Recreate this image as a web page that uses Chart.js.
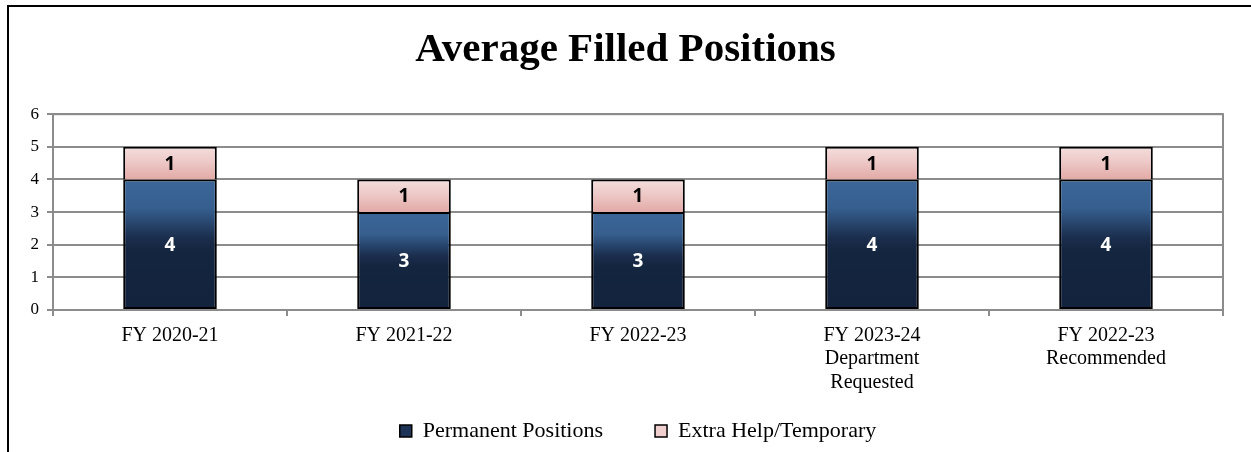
<!DOCTYPE html>
<html>
<head>
<meta charset="utf-8">
<script src="https://cdn.jsdelivr.net/npm/chart.js@4/dist/chart.umd.min.js"></script>
<style>
  html, body { margin: 0; padding: 0; background: #ffffff; }
  #wrap { position: relative; width: 1251px; height: 452px; overflow: hidden; background: #fff; }
  #frame { position: absolute; left: 7px; top: 5px; width: 1400px; height: 600px;
           border-left: 2px solid #000; border-top: 2px solid #000; }
  canvas { position: absolute; left: 0; top: 0; }
</style>
</head>
<body>
<div id="wrap">
  <div id="frame"></div>
  <canvas id="c" width="1251" height="452"></canvas>
</div>
<script>
const chartTitle = 'Average Filled Positions';
const categories = [
  ['FY 2020-21'],
  ['FY 2021-22'],
  ['FY 2022-23'],
  ['FY 2023-24', 'Department', 'Requested'],
  ['FY 2022-23', 'Recommended']
];
const seriesNames = ['Permanent Positions', 'Extra Help/Temporary'];
const permanentPositions = [4, 3, 3, 4, 4];
const extraHelpTemporary = [1, 1, 1, 1, 1];
const yTicks = [0, 1, 2, 3, 4, 5, 6];

const SERIF = '"Liberation Serif", "Times New Roman", serif';
const SANS = '"Open Sans", "Liberation Sans", sans-serif';

function barGradient(context, stops) {
  const chart = context.chart;
  const area = chart.chartArea;
  const fallback = stops[stops.length - 1][1];
  if (!area) return fallback;
  const y = chart.scales.y;
  const raw = context.raw;
  if (raw === undefined || raw === null) return fallback;
  let start = 0;
  for (let d = 0; d < context.datasetIndex; d++) start += chart.data.datasets[d].data[context.dataIndex];
  const top = y.getPixelForValue(start + raw);
  const bottom = y.getPixelForValue(start);
  if (!isFinite(top) || !isFinite(bottom) || top === bottom) return fallback;
  const g = chart.ctx.createLinearGradient(0, top, 0, bottom);
  stops.forEach(s => g.addColorStop(s[0], s[1]));
  return g;
}

const blueStops = [[0, '#3b6698'], [0.22, '#365f8f'], [0.45, '#1a2d4c'], [0.55, '#14253f'], [1, '#13233d']];
const pinkStops = [[0, '#f3dedd'], [0.4, '#eeccca'], [1, '#e2a9a6']];

const valueLabels = {
  id: 'valueLabels',
  afterDatasetsDraw(chart) {
    const ctx = chart.ctx;
    ctx.save();
    ctx.font = 'bold 19px ' + SANS;
    ctx.textAlign = 'center';
    ctx.textBaseline = 'middle';
    chart.data.datasets.forEach((ds, di) => {
      const meta = chart.getDatasetMeta(di);
      meta.data.forEach((bar, i) => {
        const p = bar.getProps(['x', 'y', 'base'], true);
        ctx.fillStyle = di === 0 ? '#ffffff' : '#000000';
        ctx.fillText(String(ds.data[i]), p.x, (p.y + p.base) / 2 + 1);
      });
    });
    ctx.restore();
  }
};

const plotBorder = {
  id: 'plotBorder',
  beforeDatasetsDraw(chart) {
    const a = chart.chartArea;
    const ctx = chart.ctx;
    ctx.save();
    ctx.strokeStyle = '#8c8c8c';
    ctx.lineWidth = 2;
    ctx.strokeRect(a.left, a.top, a.right - a.left, a.bottom - a.top);
    ctx.restore();
  }
};

// let the multi-line category labels run down past the axis box (they are clipped to it otherwise)
const labelRoom = {
  id: 'labelRoom',
  afterLayout(chart) {
    chart.scales.x.bottom = chart.height;
  }
};

new Chart(document.getElementById('c'), {
  type: 'bar',
  data: {
    labels: categories,
    datasets: [
      {
        label: seriesNames[0],
        data: permanentPositions,
        backgroundColor: (ctx) => barGradient(ctx, blueStops),
        borderColor: '#000000',
        borderWidth: 2,
        borderSkipped: false,
        barPercentage: 0.8,
        categoryPercentage: 0.5
      },
      {
        label: seriesNames[1],
        data: extraHelpTemporary,
        backgroundColor: (ctx) => barGradient(ctx, pinkStops),
        borderColor: '#000000',
        borderWidth: 2,
        borderSkipped: 'bottom',
        barPercentage: 0.8,
        categoryPercentage: 0.5
      }
    ]
  },
  options: {
    responsive: false,
    animation: false,
    devicePixelRatio: 1,
    layout: { padding: { left: 28, right: 28, top: 0, bottom: 0 } },
    scales: {
      x: {
        stacked: true,
        grid: { display: true, drawOnChartArea: false, offset: true, color: '#8c8c8c', lineWidth: 2, tickLength: 6 },
        border: { display: true, color: '#8c8c8c', width: 2 },
        ticks: { color: '#000', font: { family: SERIF, size: 20, lineHeight: 1.17 }, maxRotation: 0, autoSkip: false, padding: 8 },
        afterFit(scale) { scale.height = 58; }
      },
      y: {
        stacked: true,
        min: 0,
        max: 6,
        afterBuildTicks(scale) { scale.ticks = yTicks.map(v => ({ value: v })); },
        grid: { color: '#8c8c8c', lineWidth: 2, tickLength: 6 },
        border: { display: true, color: '#8c8c8c', width: 2 },
        ticks: { color: '#000', font: { family: SERIF, size: 17 }, padding: 8 },
        afterFit(scale) { scale.width = 25; }
      }
    },
    plugins: {
      title: {
        display: true,
        text: chartTitle,
        color: '#000',
        font: { family: SERIF, size: 41, weight: 'bold', lineHeight: 1.2 },
        padding: { top: 26, bottom: 39 }
      },
      legend: {
        position: 'bottom',
        fullSize: false,
        labels: {
          color: '#000',
          font: { family: SERIF, size: 22 },
          boxWidth: 12,
          boxHeight: 12,
          padding: 52,
          generateLabels(chart) {
            return chart.data.datasets.map((ds, i) => ({
              text: ds.label,
              fillStyle: i === 0 ? '#1d3457' : '#efd0cf',
              strokeStyle: '#000',
              lineWidth: 1.5,
              datasetIndex: i,
              fontColor: '#000'
            }));
          }
        }
      },
      tooltip: { enabled: false }
    }
  },
  plugins: [plotBorder, valueLabels, labelRoom]
});
</script>
</body>
</html>
